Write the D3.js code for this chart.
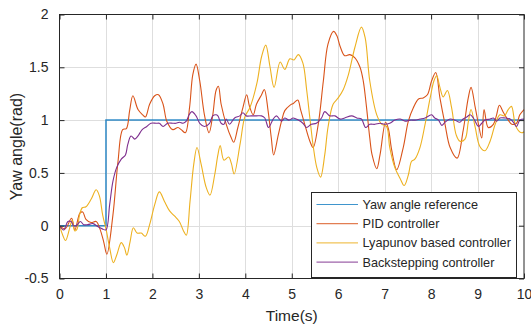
<!DOCTYPE html>
<html><head><meta charset="utf-8">
<script src="https://cdn.jsdelivr.net/npm/d3@7/dist/d3.min.js"></script>
<style>
body{margin:0;background:#fff}
svg{display:block}
text{font-family:"Liberation Sans",Arial,Helvetica,sans-serif;fill:#262626}
</style>
</head><body>
<svg id="chart" width="531" height="326"></svg>
<script>
// ---------- data ----------
const xTicks = [0,1,2,3,4,5,6,7,8,9,10];
const yTicks = [-0.5,0,0.5,1,1.5,2];
const seriesNames = ["Yaw angle reference","PID controller","Lyapunov based controller","Backstepping controller"];

const refT = [0,1,1,10];
const refV = [0,0,1,1];

const pidT = [0,0.12,0.26,0.33,0.44,0.5,0.57,0.68,0.79,0.87,0.95,1.02,1.15,1.26,1.36,1.44,1.51,1.58,1.69,1.79,1.85,1.94,2.05,2.13,2.23,2.31,2.44,2.55,2.62,2.71,2.80,2.87,2.94,3.02,3.12,3.22,3.30,3.37,3.42,3.48,3.59,3.70,3.75,3.84,3.95,4.03,4.09,4.17,4.24,4.35,4.41,4.49,4.56,4.61,4.71,4.78,4.85,4.96,5.04,5.13,5.19,5.28,5.39,5.46,5.57,5.68,5.78,5.90,5.97,6.04,6.14,6.25,6.36,6.47,6.54,6.61,6.68,6.73,6.83,6.90,7.02,7.08,7.15,7.26,7.40,7.51,7.62,7.73,7.83,7.92,8.01,8.10,8.19,8.30,8.41,8.56,8.69,8.80,8.86,8.95,9.02,9.09,9.14,9.23,9.34,9.41,9.47,9.56,9.66,9.74,9.84,9.91,10.0];
const pidV = [0,-0.03,0.07,-0.04,0.12,0.13,0.06,0.03,0.04,-0.03,-0.15,-0.27,0.10,0.61,0.91,0.92,1.09,1.23,1.10,1.05,1.03,1.15,1.23,1.24,1.15,0.99,0.91,0.93,0.91,0.88,1.12,1.43,1.53,1.37,1.05,0.88,1.05,1.28,1.32,1.15,0.96,0.83,0.79,0.93,1.12,1.24,1.13,1.05,1.15,1.24,1.29,1.09,0.83,0.67,0.86,0.99,1.09,1.14,1.16,1.19,1.10,0.96,0.80,0.74,0.96,1.37,1.72,1.84,1.80,1.70,1.61,1.62,1.59,1.50,1.37,1.12,0.83,0.67,0.54,0.67,0.98,0.92,0.72,0.53,0.74,0.99,1.12,1.20,1.21,1.24,1.37,1.45,1.21,0.96,0.74,0.64,0.90,1.21,1.31,1.12,0.96,0.83,1.10,0.93,0.96,1.05,1.14,1.07,1.00,0.96,0.97,1.05,1.10];

const lyaT = [0,0.07,0.13,0.22,0.27,0.33,0.38,0.43,0.49,0.57,0.68,0.79,0.86,0.93,1.01,1.08,1.16,1.23,1.33,1.40,1.45,1.52,1.59,1.67,1.76,1.85,1.94,2.05,2.15,2.26,2.37,2.48,2.58,2.67,2.73,2.81,2.89,2.96,3.05,3.16,3.24,3.34,3.41,3.46,3.54,3.64,3.70,3.76,3.89,3.99,4.10,4.25,4.35,4.44,4.53,4.62,4.75,4.85,4.96,5.05,5.14,5.24,5.32,5.39,5.46,5.54,5.62,5.71,5.78,5.89,6.00,6.11,6.22,6.36,6.50,6.58,6.68,6.83,6.94,7.04,7.11,7.22,7.33,7.42,7.51,7.58,7.65,7.76,7.87,7.98,8.06,8.12,8.19,8.26,8.35,8.44,8.54,8.62,8.73,8.80,8.86,8.95,9.05,9.16,9.27,9.38,9.48,9.58,9.66,9.73,9.81,9.88,9.95,10.0];
const lyaV = [0,-0.09,-0.14,-0.02,0.05,-0.05,-0.03,0.10,0.17,0.18,0.25,0.34,0.28,0.10,-0.05,-0.21,-0.35,-0.28,-0.16,-0.21,-0.28,-0.15,-0.02,-0.07,-0.07,-0.10,0.01,0.20,0.32,0.23,0.14,0.09,0.04,-0.05,-0.09,0.23,0.58,0.74,0.58,0.36,0.29,0.48,0.67,0.76,0.62,0.65,0.59,0.49,0.78,1.03,1.12,1.35,1.60,1.71,1.51,1.31,1.55,1.48,1.58,1.57,1.62,1.54,1.29,1.02,0.76,0.55,0.46,0.67,0.93,1.15,1.21,1.29,1.43,1.69,1.88,1.78,1.37,1.05,0.96,0.94,0.74,0.55,0.45,0.38,0.48,0.61,0.63,0.74,0.96,1.21,1.37,1.42,1.31,1.22,1.28,1.12,0.86,0.80,0.82,0.98,1.10,0.93,0.75,0.71,0.80,0.96,1.05,1.04,1.10,1.13,0.96,0.90,0.88,0.89];

const bsT = [0,0.09,0.18,0.25,0.30,0.36,0.45,0.52,0.61,0.72,0.83,0.92,1.0,1.08,1.15,1.23,1.33,1.42,1.47,1.54,1.62,1.69,1.78,1.88,1.97,2.08,2.15,2.23,2.33,2.44,2.51,2.58,2.66,2.73,2.79,2.85,2.94,3.02,3.12,3.23,3.30,3.37,3.41,3.48,3.54,3.59,3.66,3.77,3.88,3.95,4.02,4.13,4.24,4.35,4.42,4.50,4.60,4.67,4.78,4.85,4.94,5.03,5.14,5.24,5.32,5.42,5.53,5.64,5.71,5.82,5.93,6.04,6.14,6.29,6.40,6.50,6.59,6.68,6.79,6.90,7.01,7.11,7.22,7.33,7.44,7.55,7.65,7.76,7.87,8.01,8.08,8.16,8.23,8.30,8.41,8.51,8.62,8.69,8.77,8.84,8.91,9.02,9.09,9.16,9.27,9.34,9.41,9.48,9.59,9.70,9.77,9.84,9.91,10.0];
const bsV = [0,-0.04,0.04,0.04,0.0,0.0,0.04,0.01,0.01,0.02,-0.01,-0.03,-0.04,0.20,0.42,0.55,0.63,0.67,0.77,0.85,0.82,0.85,0.91,0.94,0.97,0.97,0.97,0.94,0.97,0.97,0.97,0.98,0.97,0.99,1.05,1.08,1.04,0.97,0.94,0.97,1.04,1.05,1.04,0.97,0.96,1.01,0.96,1.02,1.04,1.07,1.04,1.04,1.04,1.04,1.02,0.93,1.01,1.04,0.99,1.02,1.0,1.02,1.0,0.97,0.93,0.96,0.97,1.02,1.08,1.04,1.04,1.01,1.02,1.04,1.02,1.01,0.93,0.96,0.96,0.97,0.96,0.97,1.0,1.01,0.99,1.0,1.0,1.01,1.02,1.05,1.02,1.0,0.95,0.98,1.01,1.0,0.98,1.01,1.03,1.05,1.02,0.94,0.97,1.0,1.01,1.02,0.99,1.02,1.02,1.01,0.98,0.94,1.0,1.01];

// ---------- styles ----------
const colors = ["#0072BD","#D95319","#EDB120","#7E2F8E"];
const W = 531, H = 326;
const L = 59.5, R = 524, T = 14.5, B = 278.5;

const svg = d3.select("#chart");
svg.append("rect").attr("width",W).attr("height",H).attr("fill","#fff");

const x = d3.scaleLinear().domain([0,10]).range([L,R]);
const y = d3.scaleLinear().domain([-0.5,2]).range([B,T]);

// grid
const grid = svg.append("g").attr("stroke","#dedede").attr("stroke-width",1);
xTicks.forEach(t=>{ if(t>0&&t<10) grid.append("line").attr("x1",Math.round(x(t))+0.5).attr("x2",Math.round(x(t))+0.5).attr("y1",T).attr("y2",B); });
yTicks.forEach(t=>{ if(t>-0.5&&t<2) grid.append("line").attr("y1",Math.round(y(t))+0.5).attr("y2",Math.round(y(t))+0.5).attr("x1",L).attr("x2",R); });

// series
const plot = svg.append("g");
const mk = (ts,vs)=>ts.map((t,i)=>[t,vs[i]]);
const lineSmooth = d3.line().x(d=>x(d[0])).y(d=>y(d[1])).curve(d3.curveCatmullRom.alpha(0.5));
const lineStep = d3.line().x(d=>x(d[0])).y(d=>y(d[1]));
plot.append("path").attr("d",lineStep(mk(refT,refV))).attr("fill","none").attr("stroke",colors[0]).attr("stroke-width",1.5).attr("opacity",0.8);
plot.append("path").attr("d",lineSmooth(mk(pidT,pidV))).attr("fill","none").attr("stroke",colors[1]).attr("stroke-width",1.1);
plot.append("path").attr("d",lineSmooth(mk(lyaT,lyaV))).attr("fill","none").attr("stroke",colors[2]).attr("stroke-width",1.1);
plot.append("path").attr("d",lineSmooth(mk(bsT,bsV))).attr("fill","none").attr("stroke",colors[3]).attr("stroke-width",1.1);

// axes with inward ticks (MATLAB style)
const axc = "#262626";
const xb = d3.axisBottom(x).tickValues(xTicks).tickSize(-5).tickPadding(11).tickFormat(d=>String(d));
const xt = d3.axisTop(x).tickValues(xTicks).tickSize(-5).tickFormat("");
const yl = d3.axisLeft(y).tickValues(yTicks).tickSize(-5).tickPadding(11).tickFormat(d=>String(d));
const yr = d3.axisRight(y).tickValues(yTicks).tickSize(-5).tickFormat("");
function style(g){ g.select(".domain").remove(); g.selectAll("line").attr("stroke",axc); g.selectAll("text").attr("fill",axc).style("font-size","14px").style("font-family","'Liberation Sans',Arial,sans-serif"); }
svg.append("g").attr("transform",`translate(0,${B})`).call(xb).call(style);
svg.append("g").attr("transform",`translate(0,${T})`).call(xt).call(style);
svg.append("g").attr("transform",`translate(${L},0)`).call(yl).call(style);
svg.append("g").attr("transform",`translate(${R},0)`).call(yr).call(style);
svg.append("rect").attr("x",L).attr("y",T).attr("width",R-L).attr("height",B-T).attr("fill","none").attr("stroke",axc).attr("stroke-width",1);

// axis labels
svg.append("text").attr("x",(L+R)/2).attr("y",321).attr("text-anchor","middle").style("font-size","15.5px").text("Time(s)");
svg.append("text").attr("transform",`translate(21.5,${(T+B)/2}) rotate(-90)`).attr("text-anchor","middle").style("font-size","16px").text("Yaw angle(rad)");

// legend
const lg = svg.append("g");
lg.append("rect").attr("x",311.5).attr("y",192.5).attr("width",205).attr("height",85).attr("fill","#fff").attr("stroke",axc).attr("stroke-width",1);
seriesNames.forEach((n,i)=>{
  const yy = 204.5 + i*19.2;
  lg.append("line").attr("x1",316.5).attr("x2",358).attr("y1",yy).attr("y2",yy).attr("stroke",colors[i]).attr("stroke-width",1.2).attr("opacity",0.75);
  lg.append("text").attr("x",362.5).attr("y",yy).attr("dy","0.35em").style("font-size","12.7px").text(n);
});
</script>
</body></html>
